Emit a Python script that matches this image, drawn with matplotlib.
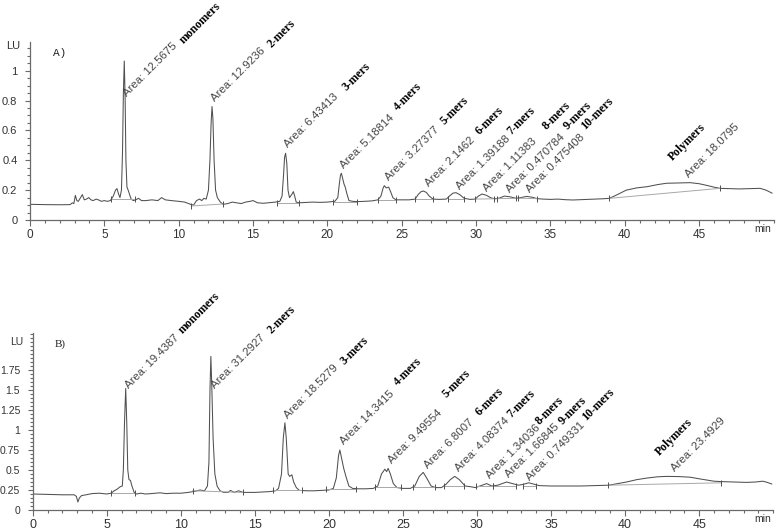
import matplotlib
matplotlib.use("Agg")
import matplotlib.pyplot as plt
from matplotlib.ticker import MultipleLocator, FixedLocator
import matplotlib.transforms as mtrans

# ---------------- data ----------------
# Panel A trace (time in min, signal in LU)
a_time = [0, 1, 2, 2.7, 2.85, 2.95, 3.05, 3.15, 3.25, 3.4, 3.52, 3.65, 3.8, 3.95, 4.1, 4.25, 4.45, 4.6,
          4.8, 5.0, 5.2, 5.4, 5.6, 5.75, 5.85, 5.95, 6.05, 6.15, 6.22, 6.28, 6.34, 6.40, 6.45, 6.52, 6.6,
          6.7, 6.8, 6.95, 7.1, 7.3, 7.5, 7.8, 8.2, 8.6, 8.85, 9.1, 9.5, 10, 10.4, 10.8, 11.0, 11.2, 11.4,
          11.55, 11.7, 11.85, 12.0, 12.1, 12.18, 12.24, 12.3, 12.38, 12.48, 12.6, 12.8, 13.0, 13.3, 13.6,
          13.9, 14.2, 14.5, 14.8, 15.0, 15.3, 15.7, 16.0, 16.5, 16.8, 16.95, 17.05, 17.12, 17.19, 17.27,
          17.35, 17.45, 17.6, 17.71, 17.8, 17.9, 18.1, 18.5, 19, 19.5, 20, 20.5, 20.7, 20.8, 20.88, 20.94,
          21.02, 21.12, 21.2, 21.3, 21.45, 21.7, 22, 22.5, 23, 23.4, 23.6, 23.75, 23.83, 23.95, 24.12,
          24.25, 24.4, 24.6, 25.0, 25.5, 25.9, 26.1, 26.3, 26.45, 26.65, 26.85, 27.1, 27.5, 28.0, 28.2,
          28.45, 28.65, 28.9, 29.2, 29.6, 29.95, 30.15, 30.4, 30.7, 31.0, 31.3, 31.6, 31.9, 32.3, 32.7,
          33.0, 33.4, 33.8, 34.1, 34.5, 35, 35.5, 36, 36.5, 37, 37.5, 38, 38.5, 38.96, 39.5, 40.1, 40.8,
          41.5, 42.2, 42.8, 43.6, 44.4, 45.0, 45.5, 46.0, 46.4, 47, 47.7, 48.5, 49.1, 49.5, 49.9]
a_signal = [0.105, 0.103, 0.102, 0.103, 0.115, 0.11, 0.165, 0.13, 0.125, 0.15, 0.17, 0.135, 0.14, 0.15,
            0.135, 0.13, 0.14, 0.135, 0.125, 0.13, 0.125, 0.13, 0.16, 0.2, 0.21, 0.175, 0.15, 0.2, 0.45,
            0.85, 1.065, 0.8, 0.4, 0.22, 0.2, 0.17, 0.14, 0.13, 0.135, 0.145, 0.13, 0.13, 0.135, 0.13,
            0.15, 0.135, 0.13, 0.125, 0.12, 0.105, 0.1, 0.13, 0.14, 0.13, 0.145, 0.14, 0.2, 0.4, 0.65,
            0.76, 0.68, 0.4, 0.2, 0.15, 0.12, 0.105, 0.11, 0.12, 0.115, 0.11, 0.12, 0.125, 0.13, 0.115,
            0.112, 0.115, 0.12, 0.125, 0.16, 0.3, 0.42, 0.447, 0.38, 0.2, 0.15, 0.17, 0.19, 0.16, 0.12,
            0.115, 0.117, 0.12, 0.118, 0.12, 0.125, 0.15, 0.24, 0.3, 0.313, 0.28, 0.24, 0.22, 0.18, 0.13,
            0.125, 0.123, 0.125, 0.128, 0.135, 0.16, 0.215, 0.23, 0.215, 0.22, 0.19, 0.15, 0.135, 0.135,
            0.135, 0.14, 0.17, 0.19, 0.194, 0.185, 0.16, 0.14, 0.138, 0.14, 0.16, 0.18, 0.183, 0.17,
            0.145, 0.138, 0.14, 0.16, 0.174, 0.165, 0.148, 0.142, 0.148, 0.16, 0.155, 0.145, 0.15, 0.158,
            0.152, 0.143, 0.14, 0.138, 0.14, 0.136, 0.134, 0.136, 0.138, 0.14, 0.142, 0.145, 0.17, 0.2,
            0.215, 0.223, 0.237, 0.246, 0.248, 0.25, 0.243, 0.232, 0.22, 0.212, 0.21, 0.208, 0.21, 0.212,
            0.2, 0.18]

# Panel B trace
b_time = [0, 1, 2, 2.8, 2.95, 3.05, 3.15, 3.3, 3.6, 4, 4.5, 5.0, 5.3, 5.5, 5.7, 5.9, 6.05, 6.12, 6.2,
          6.28, 6.35, 6.42, 6.5, 6.6, 6.7, 6.85, 7.0, 7.3, 7.6, 8, 8.6, 9, 9.5, 10, 10.5, 11, 11.3, 11.6,
          11.8, 11.9, 11.97, 12.03, 12.1, 12.18, 12.3, 12.45, 12.65, 12.9, 13.2, 13.35, 13.6, 13.9, 14.2,
          14.6, 15, 15.5, 16, 16.4, 16.6, 16.8, 16.92, 17.03, 17.12, 17.25, 17.35, 17.5, 17.62, 17.8, 18,
          18.5, 19, 19.5, 20, 20.3, 20.5, 20.65, 20.74, 20.85, 21.0, 21.15, 21.35, 21.6, 22, 22.5, 23,
          23.3, 23.55, 23.78, 23.9, 24.0, 24.15, 24.35, 24.6, 25, 25.5, 25.8, 26.1, 26.37, 26.6, 26.9,
          27.2, 27.6, 27.9, 28.2, 28.5, 28.8, 29.2, 29.6, 29.9, 30.2, 30.65, 31.0, 31.4, 31.7, 32.0,
          32.4, 32.8, 33.1, 33.5, 33.9, 34.2, 35, 36, 37, 38, 38.9, 39.5, 40.1, 40.8, 41.5, 42.2, 42.8,
          43.6, 44.4, 45.0, 45.5, 46.0, 46.5, 47.3, 48.2, 48.8, 49.3, 49.6, 49.9]
b_signal = [0.2, 0.195, 0.19, 0.19, 0.17, 0.1, 0.15, 0.18, 0.19, 0.205, 0.21, 0.2, 0.21, 0.24, 0.26,
            0.29, 0.3, 0.5, 1.1, 1.52, 1.1, 0.5, 0.38, 0.37, 0.3, 0.22, 0.2, 0.21, 0.2, 0.205, 0.215,
            0.205, 0.21, 0.21, 0.22, 0.235, 0.25, 0.24, 0.3, 0.6, 1.5, 1.92, 1.5, 0.9, 0.45, 0.3, 0.24,
            0.22, 0.22, 0.245, 0.22, 0.24, 0.22, 0.22, 0.22, 0.225, 0.23, 0.24, 0.27, 0.45, 0.9, 1.09,
            0.9, 0.45, 0.42, 0.44, 0.35, 0.28, 0.245, 0.24, 0.24, 0.245, 0.25, 0.27, 0.4, 0.68, 0.75,
            0.65, 0.52, 0.42, 0.3, 0.27, 0.265, 0.265, 0.27, 0.3, 0.45, 0.51, 0.48, 0.52, 0.45, 0.33,
            0.28, 0.27, 0.27, 0.3, 0.42, 0.47, 0.4, 0.3, 0.28, 0.28, 0.32, 0.38, 0.42, 0.38, 0.3, 0.29,
            0.28, 0.3, 0.33, 0.3, 0.31, 0.33, 0.35, 0.33, 0.31, 0.32, 0.34, 0.32, 0.305, 0.3, 0.3, 0.3,
            0.305, 0.31, 0.33, 0.35, 0.38, 0.4, 0.415, 0.42, 0.418, 0.41, 0.39, 0.375, 0.36, 0.355,
            0.35, 0.345, 0.35, 0.36, 0.345, 0.325]

# Integration baselines: (start time, start LU, end time, end LU)
a_baselines = [(5.47, 0.14, 7.04, 0.14), (10.85, 0.094, 12.98, 0.107), (16.59, 0.112, 18.09, 0.112),
               (20.4, 0.123, 21.97, 0.123), (23.38, 0.134, 24.6, 0.134), (25.9, 0.14, 27.1, 0.14),
               (28.13, 0.14, 29.2, 0.14), (29.9, 0.14, 31.2, 0.142), (31.4, 0.143, 32.7, 0.145),
               (32.8, 0.146, 34.1, 0.143), (38.96, 0.145, 46.4, 0.212)]
b_baselines = [(5.31, 0.216, 6.9, 0.216), (10.8, 0.24, 14.2, 0.22), (16.25, 0.25, 18.16, 0.25),
               (19.83, 0.26, 21.85, 0.26), (23.1, 0.29, 24.9, 0.29), (25.7, 0.29, 27.15, 0.29),
               (27.8, 0.3, 29.1, 0.3), (29.96, 0.3, 31.1, 0.3), (31.1, 0.305, 32.6, 0.305),
               (33.1, 0.305, 34.0, 0.305), (38.85, 0.31, 46.5, 0.34)]

names = ["monomers", "2-mers", "3-mers", "4-mers", "5-mers", "6-mers", "7-mers", "8-mers", "9-mers",
         "10-mers", "Polymers"]
a_areas = ["12.5675", "12.9236", "6.43413", "5.18814", "3.27377", "2.1462", "1.39188", "1.11383",
           "0.470784", "0.475408", "18.0795"]
b_areas = ["19.4387", "31.2927", "18.5279", "14.3415", "9.49554", "6.8007", "4.08374", "1.34036",
           "1.66845", "0.749331", "23.4929"]

x_ticks = [0, 5, 10, 15, 20, 25, 30, 35, 40, 45]
a_yticks = [0, 0.2, 0.4, 0.6, 0.8, 1]
a_ylabels = ["0", "0.2", "0.4", "0.6", "0.8", "1"]
b_yticks = [0, 0.25, 0.5, 0.75, 1, 1.25, 1.5, 1.75]
b_ylabels = ["0", "0.25", "0.5", "0.75", "1", "1.25", "1.5", "1.75"]

# label anchor positions (layout): "Area" text start and name text start
a_area_pos = [(6.61, 0.815), (12.51, 0.78), (17.44, 0.47), (21.18, 0.33), (24.21, 0.25), (26.9, 0.21),
              (28.98, 0.19), (30.82, 0.18), (32.35, 0.174), (33.74, 0.17), (44.38, 0.27)]
a_name_pos = [(10.5, 1.165), (16.36, 1.139), (21.41, 0.849), (24.88, 0.715), (28.02, 0.625),
              (30.37, 0.558), (32.5, 0.558), (34.86, 0.59), (36.3, 0.59), (37.5, 0.59), (43.38, 0.38)]
b_area_pos = [(6.57, 1.5), (12.38, 1.5), (17.33, 1.12), (21.09, 0.79), (24.35, 0.56), (26.78, 0.5),
              (28.85, 0.46), (30.99, 0.375), (32.27, 0.38), (33.69, 0.35), (43.47, 0.46)]
b_name_pos = [(10.28, 2.17), (16.25, 2.17), (21.2, 1.79), (24.8, 1.52), (28.06, 1.375), (30.3, 1.146),
              (32.45, 1.125), (34.37, 1.04), (35.94, 1.04), (37.5, 1.08), (42.47, 0.65)]

# ---------------- drawing ----------------
W, H = 776, 531
fig = plt.figure(figsize=(W / 100, H / 100), dpi=100)

trace_c = "#505050"
axis_c = "#6a6a6a"
base_c = "#a8a8a8"
tick_c = "#333333"


def make_panel(rect, t, s, baselines, ylim, yticks, ylabels, minor_y, areas, area_pos, name_pos,
               panel_label, plab_pos, plab_font, lu_y, ysize, xsize):
    ax = fig.add_axes(rect)
    ax.plot(t, s, color=trace_c, lw=0.75)
    for (t0, y0, t1, y1) in baselines:
        ax.plot([t0, t1], [y0, y1], color=base_c, lw=0.7)
        ax.plot([t0, t1], [y0, y1], ls="none", marker="|", ms=5, mew=0.7, color=trace_c)
    ax.set_xlim(0, 50)
    ax.set_ylim(*ylim)
    for sp in ["top", "right"]:
        ax.spines[sp].set_visible(False)
    for sp in ["left", "bottom"]:
        ax.spines[sp].set_color(axis_c)
        ax.spines[sp].set_linewidth(0.9)
    ax.set_xticks(x_ticks)
    ax.set_xticklabels([str(v) for v in x_ticks])
    ax.xaxis.set_minor_locator(MultipleLocator(1))
    ax.yaxis.set_major_locator(FixedLocator(yticks))
    ax.set_yticklabels(ylabels)
    ax.yaxis.set_minor_locator(MultipleLocator(minor_y))
    ax.tick_params(axis="x", which="major", length=4, width=0.8, color=axis_c, labelsize=xsize,
                   labelcolor=tick_c, pad=2.5)
    ax.tick_params(axis="x", which="minor", length=2.2, width=0.8, color=axis_c)
    ax.tick_params(axis="y", which="major", length=3.5, width=0.8, color=axis_c, labelsize=ysize,
                   labelcolor=tick_c, pad=5.5)
    ax.tick_params(axis="y", which="minor", length=2, width=0.8, color=axis_c)
    for lab in ax.get_xticklabels() + ax.get_yticklabels():
        lab.set_family("Liberation Sans")
    # unit labels
    ax.text(49.3, -0.02, "min", transform=mtrans.blended_transform_factory(ax.transData, ax.transAxes),
            ha="center", va="top", fontsize=7.5, color=tick_c, family="Liberation Sans")
    ax.annotate("LU", xy=(0, lu_y), xycoords=("axes fraction", "data"), xytext=(-7, 0),
                textcoords="offset points", ha="right", va="center", fontsize=ysize, color=tick_c,
                family="Liberation Sans")
    ax.text(plab_pos[0], plab_pos[1], panel_label, fontsize=8, family=plab_font, color="#222222",
            ha="center", va="center")
    for i in range(len(names)):
        ax.text(area_pos[i][0], area_pos[i][1], "Area: " + areas[i], rotation=45, rotation_mode="anchor",
                ha="left", va="bottom", fontsize=8.2, color="#454545", family="Liberation Sans",
                clip_on=False)
        ax.text(name_pos[i][0], name_pos[i][1], names[i], rotation=45, rotation_mode="anchor",
                ha="left", va="bottom", fontsize=8.5, fontweight="bold", color="black",
                family="Liberation Serif", clip_on=False)
    return ax


make_panel([30 / W, (H - 220) / H, 743.5 / W, (220 - 41.7) / H], a_time, a_signal, a_baselines,
           (0, 1.194), a_yticks, a_ylabels, 0.05, a_areas, a_area_pos, a_name_pos,
           "A)", (2.0, 1.12), "Liberation Mono", 1.167, 8, 8.5)
make_panel([32.7 / W, (H - 510) / H, 740.5 / W, 177 / H], b_time, b_signal, b_baselines,
           (0, 2.2125), b_yticks, b_ylabels, 0.05, b_areas, b_area_pos, b_name_pos,
           "B)", (1.84, 2.07), "Liberation Serif", 2.10, 7.5, 9)

fig.savefig("out.png", dpi=100)
